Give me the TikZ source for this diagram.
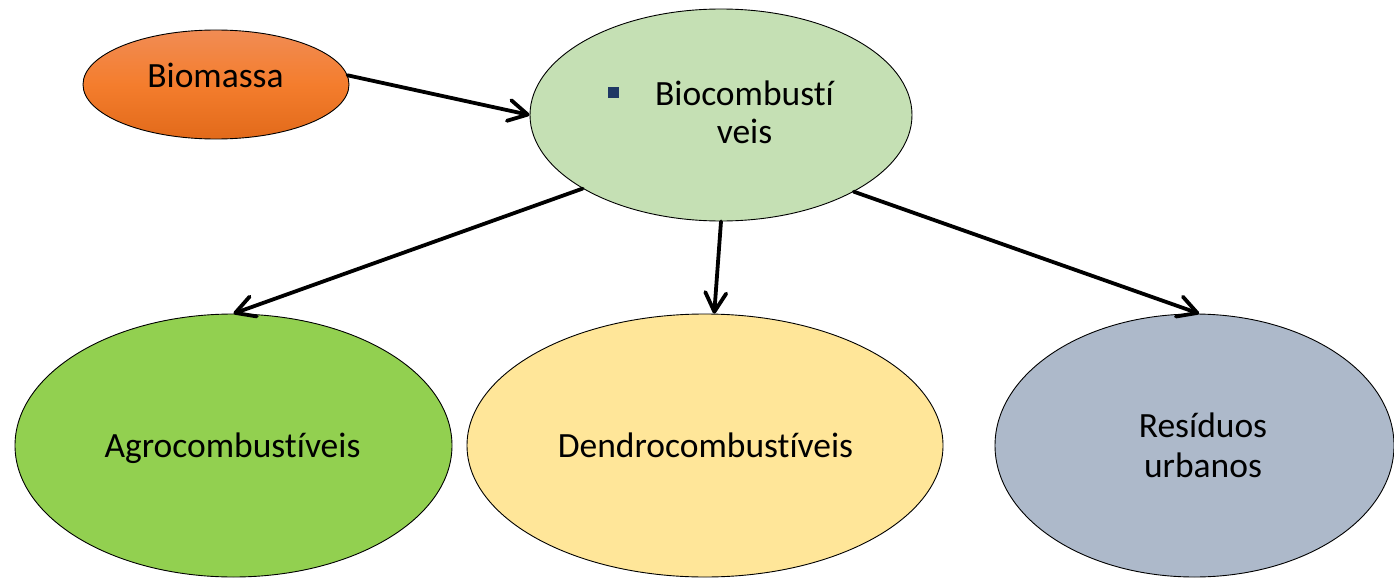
\documentclass[tikz,border=0pt]{standalone}
\usepackage{fontspec}
\setmainfont{Carlito}[Ligatures=NoCommon]
\usetikzlibrary{shapes.geometric,arrows.meta}

\definecolor{orangeTop}{RGB}{241,140,84}
\definecolor{orangeMid}{RGB}{244,125,45}
\definecolor{orangeBot}{RGB}{226,106,26}
\definecolor{bioGreen}{RGB}{197,224,180}
\definecolor{agroGreen}{RGB}{146,208,80}
\definecolor{dendroYellow}{RGB}{255,230,153}
\definecolor{urbanGrey}{RGB}{173,185,202}
\definecolor{bulletNavy}{RGB}{31,56,100}

\tikzset{
  blob/.style={ellipse, draw=black, line width=0.9pt, inner sep=0pt},
  lbl/.style={anchor=base, inner sep=0pt, font=\fontsize{35.5}{40}\selectfont},
  flow/.style={line width=3.8pt, line cap=round, line join=round,
    -{Straight Barb[length=19pt, width=21pt, line width=3.8pt, round]}},
}

\begin{document}
\begin{tikzpicture}[x=1pt, y=-1pt]
  \useasboundingbox (0,0) rectangle (1394,578);

  % ellipses
  \node[blob, minimum width=266pt, minimum height=109pt,
        top color=orangeTop, bottom color=orangeBot, middle color=orangeMid]
        (biom) at (216,84.5) {};
  \node[blob, fill=bioGreen, minimum width=382pt, minimum height=212pt]
        (bioc) at (721,115) {};
  \node[blob, fill=agroGreen, minimum width=437pt, minimum height=263pt]
        (agro) at (233.5,445.5) {};
  \node[blob, fill=dendroYellow, minimum width=476pt, minimum height=263pt]
        (dendro) at (705,445.5) {};
  \node[blob, fill=urbanGrey, minimum width=399pt, minimum height=263pt]
        (urb) at (1194.5,445.5) {};

  % labels
  \node[lbl] (tbiom) at (215.5,87) {Biomassa};
  \node[fill=bulletNavy, minimum size=11pt, inner sep=0pt] (bullet) at (613.5,92.5) {};
  \node[lbl] (tbioc1) at (744.5,105) {Biocombustí};
  \node[lbl] (tbioc2) at (744.5,143) {veis};
  \node[lbl] (tagro) at (232.5,457) {Agrocombustíveis};
  \node[lbl] (tdendro) at (705.5,457) {Dendrocombustíveis};
  \node[lbl] (turb1) at (1203,437) {Resíduos};
  \node[lbl] (turb2) at (1203,477) {urbanos};

  % connectors
  \draw[flow] (biom.4) -- (bioc.west);
  \draw[flow] (bioc.208.9) -- (agro.north);
  \draw[flow] (bioc.south) -- (dendro.86);
  \draw[flow] (bioc.330.8) -- (urb.88);
\end{tikzpicture}
\end{document}
